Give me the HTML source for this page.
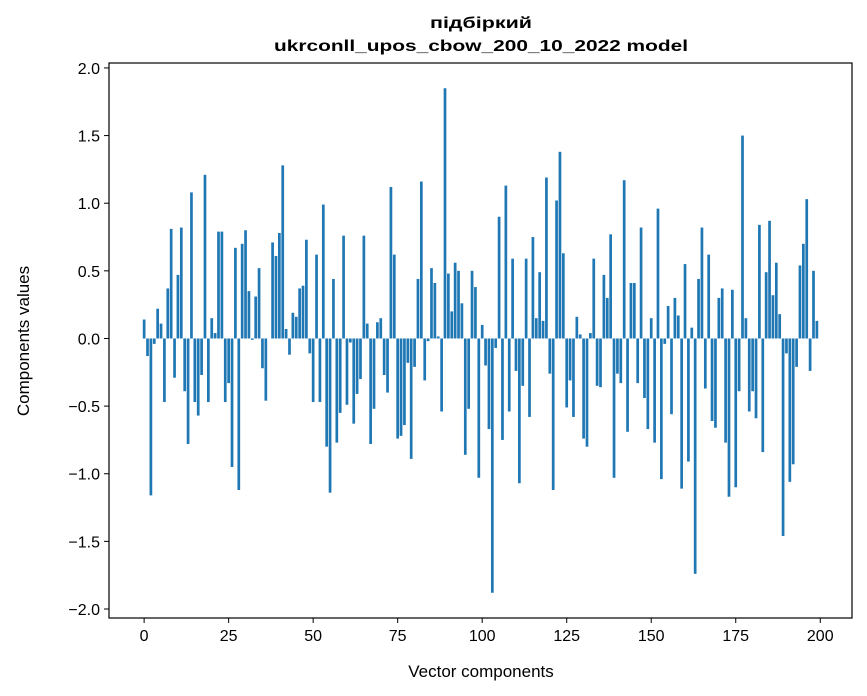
<!DOCTYPE html>
<html><head><meta charset="utf-8"><style>
body{margin:0;background:#fff;}
svg{display:block;font-family:"Liberation Sans",sans-serif;}
</style></head><body>
<svg id="chart" width="867" height="696">
<text x="481" y="28" text-anchor="middle" font-size="16" font-weight="bold" font-family="'Liberation Sans Narrow','Liberation Sans',sans-serif" textLength="102" lengthAdjust="spacingAndGlyphs">підбіркий</text>
<text x="481" y="51" text-anchor="middle" font-size="16" font-weight="bold" font-family="'Liberation Sans Narrow','Liberation Sans',sans-serif" textLength="414" lengthAdjust="spacingAndGlyphs">ukrconll_upos_cbow_200_10_2022 model</text>
<g id="bars"></g>
<g id="axes"></g>
<text x="481" y="677" text-anchor="middle" font-size="17">Vector components</text>
<text transform="translate(29,341) rotate(-90)" text-anchor="middle" font-size="17">Components values</text>
</svg>
<script>
const values = [0.14,-0.13,-1.16,-0.04,0.22,0.11,-0.47,0.37,0.81,-0.29,
0.47,0.82,-0.39,-0.78,1.08,-0.47,-0.57,-0.27,1.21,-0.47,
0.15,0.04,0.79,0.79,-0.47,-0.33,-0.95,0.67,-1.12,0.7,
0.8,0.35,-0.01,0.31,0.52,-0.22,-0.46,0.0,0.71,0.61,
0.78,1.28,0.07,-0.12,0.19,0.16,0.37,0.39,0.73,-0.11,
-0.47,0.62,-0.47,0.99,-0.8,-1.14,0.44,-0.77,-0.55,0.76,
-0.49,-0.03,-0.63,-0.41,-0.3,0.76,0.11,-0.78,-0.52,0.12,
0.15,-0.27,-0.4,1.12,0.62,-0.74,-0.72,-0.64,-0.18,-0.89,
-0.21,0.44,1.16,-0.31,-0.02,0.52,0.41,0.015,-0.54,1.85,
0.48,0.2,0.56,0.5,0.26,-0.86,-0.52,0.5,0.38,-1.03,
0.1,-0.2,-0.67,-1.88,-0.07,0.9,-0.75,1.13,-0.54,0.59,
-0.24,-1.07,-0.35,0.59,-0.58,0.75,0.15,0.49,0.13,1.19,
-0.26,-1.12,1.02,1.38,0.63,-0.51,-0.31,-0.58,0.16,0.03,
-0.74,-0.8,0.04,0.59,-0.35,-0.36,0.47,0.3,0.77,-1.03,
-0.26,-0.33,1.17,-0.69,0.41,0.41,-0.33,0.82,-0.44,-0.67,
0.15,-0.77,0.96,-1.04,-0.04,0.24,-0.56,0.3,0.17,-1.11,
0.55,-0.91,0.08,-1.74,0.44,0.82,-0.37,0.62,-0.61,-0.66,
0.3,0.37,-0.77,-1.17,0.36,-1.1,-0.39,1.5,0.15,-0.54,
-0.39,-0.59,0.84,-0.84,0.49,0.87,0.32,0.56,0.18,-1.46,
-0.11,-1.06,-0.93,-0.21,0.54,0.7,1.03,-0.24,0.5,0.13];
const xTicks = [0,25,50,75,100,125,150,175,200];
const yTicks = [-2.0,-1.5,-1.0,-0.5,0.0,0.5,1.0,1.5,2.0];

const L=109,R=852,T=63,B=618,NS="http://www.w3.org/2000/svg";
const n=values.length;
const xmin0=-0.4,xmax0=n-1+0.4,xm=(xmax0-xmin0)*0.05;
const xs=v=>L+(v-(xmin0-xm))/((xmax0+xm)-(xmin0-xm))*(R-L);
const dmin=Math.min(0,...values),dmax=Math.max(0,...values),ym=(dmax-dmin)*0.05;
const y0=dmin-ym,y1=dmax+ym;
const ys=v=>B-(v-y0)/(y1-y0)*(B-T);
const bars=document.getElementById('bars'),axes=document.getElementById('axes');
function mk(tag,attrs,parent){const e=document.createElementNS(NS,tag);for(const k in attrs)e.setAttribute(k,attrs[k]);parent.appendChild(e);return e;}
values.forEach((v,i)=>{
  const a=xs(i-0.4),b=xs(i+0.4),t=ys(Math.max(v,0)),bt=ys(Math.min(v,0));
  const r=mk('rect',{x:a,y:t,width:b-a,height:Math.max(bt-t,0.01),fill:'#1f77b4'},bars);
  
  
});
const frame=mk('rect',{x:L,y:T,width:R-L,height:B-T,fill:'none',stroke:'#000','stroke-width':1.2},axes);


xTicks.forEach(t=>{
  const x=xs(t);
  const ln=mk('line',{x1:x,x2:x,y1:B,y2:B+5,stroke:'#000','stroke-width':1},axes);
  
  
  const tx=mk('text',{x:x,y:B+23,'text-anchor':'middle','font-size':16},axes);
  tx.textContent=t;
  
  
});
yTicks.forEach(t=>{
  const y=ys(t);
  const ln=mk('line',{x1:L-5,x2:L,y1:y,y2:y,stroke:'#000','stroke-width':1},axes);
  
  
  const tx=mk('text',{x:L-9,y:y+6,'text-anchor':'end','font-size':16},axes);
  tx.textContent=(t<0?'\u2212':'')+Math.abs(t).toFixed(1);
  
  
});
</script>
</body></html>
